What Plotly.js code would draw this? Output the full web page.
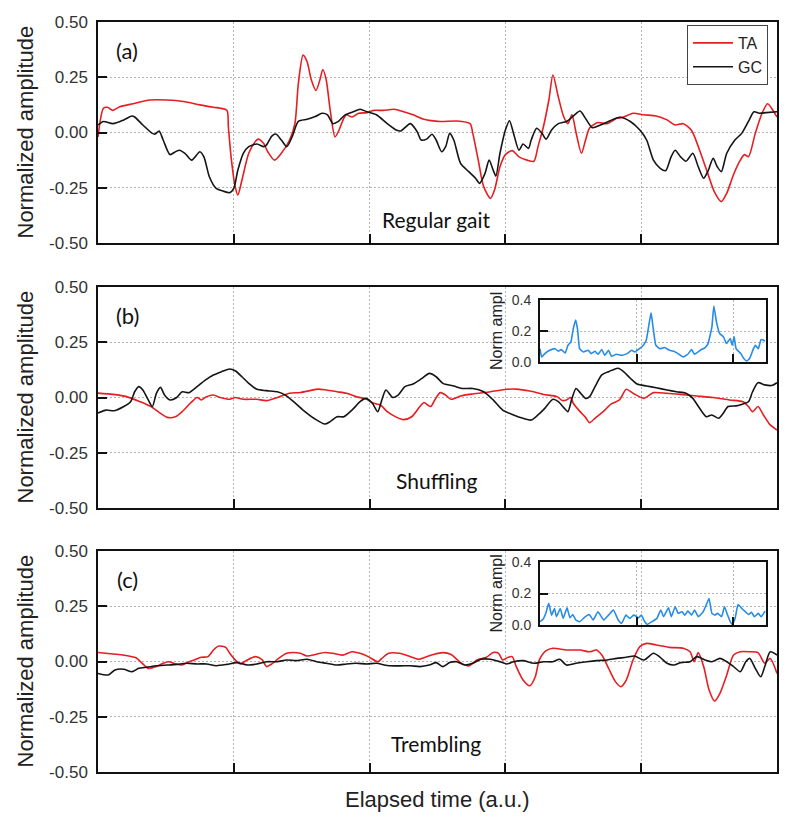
<!DOCTYPE html>
<html><head><meta charset="utf-8">
<script src="https://cdn.plot.ly/plotly-3.0.1.min.js"></script>
<style>html,body{margin:0;padding:0;background:#fff}#chart{width:788px;height:819px}</style>
</head><body><div id="chart"></div>
<script>
// ---------- DATA ----------
const yTickVals = [-0.5, -0.25, 0, 0.25, 0.5];
const yTickLabels = ['-0.50', '-0.25', '0.00', '0.25', '0.50'];
const xGridVals = [1, 2, 3, 4];
const insetYTickVals = [0, 0.2, 0.4];
const insetYTickLabels = ['0.0', '0.2', '0.4'];
const insetXGridVals = [1, 2];
const seriesNames = ['TA', 'GC'];
const panelLabels = ['(a)', '(b)', '(c)'];
const panelTitles = ['Regular gait', 'Shuffling', 'Trembling'];

// Panel (a) Regular gait
const aTA_t = [0,0.04,0.07,0.11,0.16,0.26,0.38,0.51,0.63,0.75,
  0.85,0.90,0.95,0.96,0.98,1.01,1.03,1.06,1.11,1.16,
  1.18,1.22,1.25,1.30,1.35,1.41,1.45,1.475,1.51,1.54,
  1.57,1.605,1.635,1.655,1.68,1.71,1.745,1.77,1.81,1.83,
  1.87,1.92,1.98,2.03,2.10,2.18,2.25,2.32,2.40,2.52,
  2.64,2.74,2.76,2.80,2.84,2.89,2.92,2.96,3.00,3.05,
  3.10,3.16,3.21,3.24,3.28,3.32,3.35,3.39,3.43,3.46,
  3.49,3.52,3.56,3.59,3.62,3.68,3.75,3.82,3.87,3.94,
  4.02,4.11,4.19,4.25,4.31,4.37,4.43,4.49,4.54,4.59,
  4.63,4.68,4.73,4.76,4.79,4.84,4.89,4.93,4.96,5.00];
const aTA_v = [-0.02,0.11,0.114,0.10,0.117,0.13,0.147,0.147,0.14,0.125,
  0.114,0.11,0.10,0.026,-0.11,-0.245,-0.283,-0.215,-0.094,-0.04,
  -0.03,-0.05,-0.087,-0.125,-0.094,-0.035,0.04,0.22,0.35,0.32,
  0.24,0.19,0.24,0.285,0.24,0.10,-0.02,0.004,0.064,0.08,
  0.07,0.087,0.09,0.10,0.10,0.105,0.094,0.08,0.06,0.05,
  0.052,0.04,-0.004,-0.125,-0.245,-0.298,-0.26,-0.155,-0.10,-0.082,
  -0.11,-0.125,-0.13,-0.064,0.026,0.147,0.26,0.16,0.07,0.04,
  0.08,0.0,-0.094,-0.035,0.02,0.045,0.04,0.064,0.07,0.087,
  0.08,0.075,0.057,0.034,0.04,0.01,-0.08,-0.185,-0.27,-0.313,
  -0.275,-0.19,-0.125,-0.10,-0.11,-0.004,0.087,0.13,0.11,0.07];
const aGC_t = [0,0.04,0.11,0.19,0.25,0.27,0.33,0.40,0.42,0.45,
  0.48,0.53,0.57,0.60,0.64,0.69,0.75,0.78,0.82,0.87,
  0.92,0.97,1.00,1.03,1.07,1.11,1.17,1.22,1.24,1.28,
  1.31,1.35,1.39,1.43,1.475,1.54,1.60,1.65,1.69,1.73,
  1.77,1.82,1.88,1.93,1.98,2.05,2.13,2.20,2.23,2.30,
  2.35,2.38,2.42,2.46,2.49,2.53,2.56,2.59,2.62,2.67,
  2.73,2.78,2.81,2.85,2.88,2.91,2.93,2.96,3.00,3.03,
  3.06,3.10,3.13,3.17,3.19,3.23,3.27,3.30,3.34,3.39,
  3.45,3.51,3.55,3.59,3.64,3.70,3.77,3.84,3.92,3.99,
  4.04,4.09,4.14,4.18,4.22,4.25,4.29,4.33,4.38,4.42,
  4.46,4.49,4.53,4.56,4.59,4.63,4.69,4.74,4.79,4.83,
  4.87,4.92,5.00];
const aGC_v = [0.034,0.05,0.04,0.057,0.075,0.07,0.034,-0.004,-0.007,0.007,
  -0.034,-0.10,-0.087,-0.08,-0.094,-0.125,-0.087,-0.11,-0.20,-0.253,
  -0.265,-0.272,-0.253,-0.17,-0.094,-0.064,-0.052,-0.064,-0.057,-0.016,
  -0.007,-0.034,-0.064,-0.019,0.05,0.06,0.072,0.087,0.08,0.04,
  0.05,0.08,0.094,0.105,0.094,0.08,0.04,0.01,0.007,0.04,
  0.004,-0.034,-0.03,-0.008,-0.034,-0.087,-0.064,-0.004,-0.034,-0.14,
  -0.177,-0.207,-0.23,-0.185,-0.125,-0.17,-0.197,-0.094,0.011,0.053,
  -0.004,-0.08,-0.052,-0.072,-0.034,0.019,-0.004,-0.03,0.011,0.04,
  0.05,0.08,0.097,0.064,0.022,0.034,0.053,0.069,0.05,0.011,
  -0.034,-0.125,-0.162,-0.173,-0.11,-0.08,-0.11,-0.13,-0.094,-0.155,
  -0.207,-0.177,-0.117,-0.155,-0.177,-0.094,-0.034,-0.004,0.05,0.094,
  0.087,0.09,0.094];

// Panel (b) Shuffling
const bTA_t = [0,0.11,0.21,0.31,0.39,0.46,0.51,0.57,0.62,0.68,
  0.73,0.76,0.80,0.85,0.90,0.97,1.01,1.07,1.17,1.24,
  1.34,1.41,1.49,1.56,1.62,1.68,1.76,1.83,1.90,1.98,
  2.03,2.08,2.13,2.20,2.25,2.31,2.37,2.40,2.45,2.48,
  2.52,2.56,2.60,2.67,2.76,2.89,3.01,3.08,3.18,3.28,
  3.38,3.42,3.45,3.48,3.50,3.55,3.59,3.62,3.66,3.72,
  3.78,3.84,3.89,3.94,4.02,4.09,4.19,4.29,4.41,4.53,
  4.65,4.75,4.79,4.82,4.86,4.90,4.95,5.00];
const bTA_v = [0.02,0.014,0.004,-0.019,-0.041,-0.072,-0.09,-0.087,-0.064,-0.026,
  0.0,-0.011,0.004,0.011,0.0,-0.008,0.0,-0.008,-0.008,-0.014,
  0.004,0.019,0.023,0.031,0.038,0.034,0.026,0.019,0.004,-0.008,
  -0.026,-0.034,-0.064,-0.09,-0.10,-0.087,-0.041,-0.023,-0.041,-0.011,
  0.022,0.011,-0.008,0.007,0.016,0.026,0.037,0.038,0.029,0.014,
  0.004,-0.014,-0.011,0.0,-0.026,-0.064,-0.09,-0.114,-0.094,-0.064,
  -0.029,-0.011,0.037,0.019,-0.004,0.022,0.019,0.014,0.007,0.0,
  -0.011,-0.019,-0.041,-0.064,-0.041,-0.079,-0.124,-0.147];
const bGC_t = [0,0.06,0.12,0.19,0.24,0.27,0.30,0.33,0.37,0.40,
  0.43,0.46,0.49,0.53,0.58,0.62,0.67,0.73,0.79,0.85,
  0.91,0.97,1.01,1.06,1.11,1.17,1.24,1.32,1.38,1.44,
  1.51,1.59,1.67,1.71,1.76,1.81,1.87,1.93,1.97,2.02,
  2.06,2.09,2.12,2.17,2.21,2.26,2.32,2.38,2.44,2.49,
  2.54,2.62,2.68,2.76,2.84,2.91,2.98,3.06,3.13,3.19,
  3.24,3.29,3.35,3.39,3.43,3.46,3.49,3.52,3.55,3.59,
  3.62,3.66,3.71,3.76,3.79,3.83,3.87,3.92,3.97,4.04,
  4.11,4.19,4.26,4.33,4.38,4.43,4.48,4.52,4.57,4.60,
  4.64,4.70,4.75,4.79,4.82,4.86,4.91,4.96,5.00];
const bGC_v = [-0.07,-0.057,-0.06,-0.041,-0.019,0.026,0.049,0.034,-0.011,-0.041,
  0.019,0.046,0.011,-0.011,0.0,0.026,0.022,0.049,0.079,0.102,
  0.117,0.129,0.121,0.094,0.064,0.037,0.031,0.026,0.011,-0.019,
  -0.057,-0.094,-0.12,-0.109,-0.087,-0.087,-0.057,-0.019,-0.004,-0.026,
  -0.064,-0.011,0.034,0.0,0.011,0.049,0.061,0.084,0.109,0.094,
  0.064,0.052,0.041,0.041,0.026,-0.011,-0.057,-0.079,-0.094,-0.102,
  -0.079,-0.049,-0.008,-0.019,-0.046,-0.064,-0.004,0.041,0.022,-0.004,
  0.004,0.049,0.102,0.117,0.124,0.132,0.117,0.087,0.061,0.052,
  0.044,0.034,0.026,0.019,-0.004,-0.049,-0.087,-0.079,-0.094,-0.075,
  -0.041,-0.038,-0.029,-0.019,0.026,0.067,0.057,0.054,0.067];

// Panel (c) Trembling
const cTA_t = [0,0.11,0.19,0.28,0.32,0.37,0.43,0.48,0.52,0.57,
  0.62,0.66,0.71,0.76,0.81,0.85,0.89,0.94,0.97,1.01,
  1.05,1.09,1.16,1.21,1.24,1.28,1.33,1.39,1.44,1.49,
  1.54,1.60,1.67,1.73,1.80,1.87,1.93,1.99,2.06,2.09,
  2.14,2.22,2.30,2.36,2.42,2.47,2.54,2.60,2.67,2.73,
  2.79,2.86,2.91,2.95,2.98,3.02,3.05,3.08,3.13,3.18,
  3.22,3.25,3.30,3.35,3.45,3.55,3.62,3.67,3.71,3.76,
  3.81,3.85,3.89,3.94,3.99,4.04,4.11,4.21,4.31,4.36,
  4.39,4.42,4.46,4.50,4.54,4.58,4.63,4.68,4.73,4.80,
  4.86,4.91,4.95,5.00];
const cTA_v = [0.041,0.034,0.029,0.017,-0.005,-0.031,-0.023,-0.008,-0.001,-0.011,
  -0.016,-0.004,0.007,0.019,0.022,0.052,0.07,0.064,0.037,0.007,
  -0.011,0.004,0.022,0.007,-0.023,-0.011,0.014,0.037,0.041,0.037,
  0.025,0.032,0.041,0.037,0.029,0.044,0.037,0.022,-0.001,0.014,
  0.037,0.037,0.022,0.01,0.022,0.032,0.04,0.032,-0.005,-0.02,
  0.007,0.019,0.041,0.037,0.007,0.019,0.022,-0.023,-0.084,-0.11,
  -0.069,0.007,0.049,0.06,0.052,0.052,0.044,0.052,0.029,-0.031,
  -0.091,-0.114,-0.084,0.007,0.067,0.082,0.075,0.064,0.06,0.044,
  -0.001,0.04,-0.023,-0.129,-0.179,-0.144,-0.061,0.029,0.044,0.044,
  0.04,-0.008,0.014,-0.054];
const cGC_t = [0,0.075,0.125,0.19,0.25,0.30,0.36,0.43,0.51,0.58,
  0.65,0.73,0.80,0.87,0.95,1.02,1.10,1.17,1.24,1.32,
  1.39,1.46,1.54,1.61,1.68,1.76,1.83,1.90,1.98,2.05,
  2.13,2.22,2.30,2.37,2.44,2.49,2.54,2.59,2.64,2.70,
  2.76,2.82,2.89,2.96,3.01,3.06,3.13,3.21,3.28,3.35,
  3.40,3.45,3.52,3.60,3.67,3.75,3.82,3.89,3.95,4.02,
  4.09,4.14,4.19,4.24,4.29,4.36,4.41,4.47,4.52,4.58,
  4.63,4.68,4.73,4.77,4.80,4.84,4.88,4.91,4.95,5.00];
const cGC_v = [-0.054,-0.061,-0.038,-0.035,-0.046,-0.031,-0.026,-0.019,-0.016,-0.013,
  -0.008,-0.011,-0.011,-0.019,-0.013,-0.005,-0.016,-0.011,-0.001,-0.001,
  0.007,0.004,0.01,-0.001,-0.008,-0.016,-0.011,-0.008,-0.011,-0.008,
  -0.018,-0.02,-0.019,-0.023,-0.016,-0.005,-0.023,-0.005,-0.001,-0.016,
  -0.008,0.01,0.01,-0.001,-0.011,-0.001,0.004,-0.008,-0.001,-0.001,
  0.01,-0.016,-0.008,-0.001,0.004,0.007,0.014,0.019,0.025,0.007,
  0.037,0.019,-0.008,-0.016,-0.005,-0.001,0.022,0.007,-0.001,0.014,
  -0.001,-0.023,-0.046,-0.001,0.014,-0.031,-0.069,-0.023,0.044,0.029];

// Inset (b)
const ib_t = [0,0.017,0.05,0.10,0.155,0.19,0.22,0.26,0.29,0.32,
  0.345,0.37,0.39,0.41,0.45,0.50,0.53,0.57,0.60,0.64,
  0.67,0.71,0.74,0.79,0.845,0.90,0.95,0.98,1.03,1.07,
  1.10,1.13,1.15,1.17,1.20,1.24,1.29,1.34,1.40,1.43,
  1.48,1.53,1.57,1.60,1.66,1.71,1.74,1.78,1.80,1.83,
  1.86,1.90,1.93,1.97,1.99,2.01,2.03,2.08,2.11,2.14,
  2.17,2.21,2.23,2.26,2.29,2.33];
const ib_v = [0.086,0.032,0.054,0.076,0.086,0.069,0.08,0.058,0.108,0.13,
  0.216,0.27,0.205,0.086,0.065,0.076,0.054,0.069,0.05,0.08,
  0.043,0.076,0.037,0.05,0.043,0.054,0.076,0.065,0.086,0.108,
  0.14,0.249,0.318,0.227,0.108,0.086,0.093,0.076,0.065,0.054,
  0.032,0.05,0.08,0.05,0.076,0.093,0.119,0.227,0.361,0.249,
  0.184,0.162,0.119,0.151,0.108,0.162,0.086,0.054,0.022,0.006,
  0.022,0.086,0.108,0.086,0.145,0.136];
// Inset (c)
const ic_t = [0,0.034,0.06,0.09,0.12,0.15,0.17,0.21,0.24,0.28,
  0.31,0.34,0.37,0.41,0.47,0.51,0.55,0.60,0.66,0.71,
  0.76,0.81,0.845,0.89,0.93,0.97,1.02,1.05,1.08,1.11,
  1.16,1.21,1.25,1.28,1.33,1.36,1.40,1.43,1.47,1.50,
  1.53,1.57,1.60,1.64,1.69,1.72,1.75,1.78,1.81,1.84,
  1.88,1.91,1.94,1.97,1.99,2.02,2.05,2.09,2.12,2.16,
  2.19,2.22,2.26,2.29,2.33];
const ic_v = [0.021,0.038,0.074,0.137,0.063,0.105,0.053,0.105,0.042,0.109,
  0.046,0.067,0.032,0.021,0.053,0.067,0.032,0.084,0.032,0.063,
  0.095,0.032,0.011,0.063,0.042,0.063,0.046,0.063,0.025,0.004,
  0.021,0.042,0.095,0.053,0.109,0.053,0.116,0.074,0.084,0.063,
  0.088,0.063,0.095,0.053,0.084,0.126,0.168,0.074,0.063,0.074,
  0.053,0.116,0.067,0.021,0.004,0.042,0.13,0.105,0.088,0.067,
  0.08,0.053,0.074,0.053,0.088];

// ---------- LAYOUT HELPERS ----------
const W = 788, H = 819;
const fx = p => p / W;
const fy = p => 1 - p / H;
const NBSP = '\u00a0';
const RED = 'rgb(230,30,34)', BLACK = '#151515', BLUE = 'rgb(38,140,232)';
const GRID = '#b4b4b4', GRIDDASH = '1.5px,2.5px';
const SANS = 'Liberation Sans, Arial, sans-serif';
const CAL = 'Lato, Open Sans, sans-serif';
const panelPx = [[22, 243], [287, 508], [551, 772]];
const panelTitleY = [220, 480, 743];
const insetPx = [[300, 362], [562, 625]];

function mainX(i) {
  return {
    domain: [fx(98), fx(777)], range: [0, 5], anchor: 'y' + (i === 0 ? '' : i + 1),
    tickvals: xGridVals, showticklabels: false, ticks: 'inside', ticklen: 9, tickwidth: 2, tickcolor: '#111',
    showline: true, linecolor: '#111', linewidth: 2, mirror: true,
    showgrid: true, gridcolor: GRID, griddash: GRIDDASH, gridwidth: 1, zeroline: false, fixedrange: true
  };
}
function mainY(i) {
  return {
    domain: [fy(panelPx[i][1]), fy(panelPx[i][0])], range: [-0.5, 0.5], anchor: 'x' + (i === 0 ? '' : i + 1),
    tickvals: yTickVals, ticktext: yTickLabels.map(s => s + NBSP), ticks: 'inside', ticklen: 9, tickwidth: 2, tickcolor: '#111',
    tickfont: { family: SANS, size: 17, color: '#333' },
    showline: true, linecolor: '#111', linewidth: 2, mirror: true,
    showgrid: true, gridcolor: GRID, griddash: GRIDDASH, gridwidth: 1, zeroline: false, fixedrange: true
  };
}
function insetX(k) {
  const n = 4 + k;
  return {
    domain: [fx(540), fx(766)], range: [0, 2.34], anchor: 'y' + n,
    tickvals: insetXGridVals, showticklabels: false, ticks: 'inside', ticklen: 8, tickwidth: 2, tickcolor: '#111',
    showline: true, linecolor: '#111', linewidth: 2, mirror: true,
    showgrid: true, gridcolor: GRID, griddash: GRIDDASH, gridwidth: 1, zeroline: false, fixedrange: true
  };
}
function insetY(k) {
  const n = 4 + k;
  return {
    domain: [fy(insetPx[k][1]), fy(insetPx[k][0])], range: [0, 0.4], anchor: 'x' + n,
    tickvals: insetYTickVals, ticktext: insetYTickLabels.map(s => s + NBSP), ticks: 'inside', ticklen: 8, tickwidth: 2, tickcolor: '#111',
    tickfont: { family: SANS, size: 14, color: '#333' },
    showline: true, linecolor: '#111', linewidth: 2, mirror: true,
    showgrid: true, gridcolor: GRID, griddash: GRIDDASH, gridwidth: 1, zeroline: false, fixedrange: true
  };
}

const mainSets = [
  [aTA_t, aTA_v, aGC_t, aGC_v],
  [bTA_t, bTA_v, bGC_t, bGC_v],
  [cTA_t, cTA_v, cGC_t, cGC_v]
];
const traces = [];
mainSets.forEach((s, i) => {
  const xa = 'x' + (i === 0 ? '' : i + 1), ya = 'y' + (i === 0 ? '' : i + 1);
  traces.push({ x: s[0], y: s[1], type: 'scatter', mode: 'lines', name: seriesNames[0], xaxis: xa, yaxis: ya,
    showlegend: i === 0, line: { color: RED, width: 1.6, shape: 'spline', smoothing: 0.7 }, hoverinfo: 'skip' });
  traces.push({ x: s[2], y: s[3], type: 'scatter', mode: 'lines', name: seriesNames[1], xaxis: xa, yaxis: ya,
    showlegend: i === 0, line: { color: BLACK, width: 1.6, shape: 'spline', smoothing: 0.7 }, hoverinfo: 'skip' });
});
[[ib_t, ib_v], [ic_t, ic_v]].forEach((s, k) => {
  traces.push({ x: s[0], y: s[1], type: 'scatter', mode: 'lines', xaxis: 'x' + (4 + k), yaxis: 'y' + (4 + k),
    showlegend: false, line: { color: BLUE, width: 1.6, shape: 'spline', smoothing: 0.4 }, hoverinfo: 'skip' });
});

const annotations = [];
panelPx.forEach((p, i) => {
  annotations.push({ text: panelLabels[i], xref: 'paper', yref: 'paper', x: fx(127), y: fy(p[0] + 28),
    xanchor: 'center', yanchor: 'middle', showarrow: false, font: { family: CAL, size: 22, color: '#111' } });
  annotations.push({ text: 'Normalized amplitude', xref: 'paper', yref: 'paper', x: fx(25), y: fy((p[0] + p[1]) / 2),
    xanchor: 'center', yanchor: 'middle', textangle: -90, showarrow: false, font: { family: SANS, size: 22, color: '#222' } });
  annotations.push({ text: panelTitles[i], xref: 'paper', yref: 'paper', x: fx(436), y: fy(panelTitleY[i]),
    xanchor: 'center', yanchor: 'middle', showarrow: false, font: { family: CAL, size: 21, color: '#111' } });
});
insetPx.forEach((p) => {
  annotations.push({ text: 'Norm ampl', xref: 'paper', yref: 'paper', x: fx(496), y: fy((p[0] + p[1]) / 2),
    xanchor: 'center', yanchor: 'middle', textangle: -90, showarrow: false, font: { family: SANS, size: 16, color: '#222' } });
});
annotations.push({ text: 'Elapsed time (a.u.)', xref: 'paper', yref: 'paper', x: fx(438), y: fy(799),
  xanchor: 'center', yanchor: 'middle', showarrow: false, font: { family: SANS, size: 22, color: '#222' } });

const layout = {
  width: W, height: H, margin: { l: 0, r: 0, t: 0, b: 0 },
  paper_bgcolor: '#fff', plot_bgcolor: 'rgba(0,0,0,0)',
  xaxis: mainX(0), yaxis: mainY(0), xaxis2: mainX(1), yaxis2: mainY(1), xaxis3: mainX(2), yaxis3: mainY(2),
  xaxis4: insetX(0), yaxis4: insetY(0), xaxis5: insetX(1), yaxis5: insetY(1),
  showlegend: true,
  legend: { x: fx(687), y: fy(25), xanchor: 'left', yanchor: 'top', bgcolor: '#fff', bordercolor: '#444', borderwidth: 1,
    font: { family: SANS, size: 16, color: '#222' }, tracegroupgap: 0, itemwidth: 40 },
  annotations: annotations
};
Plotly.newPlot('chart', traces, layout, { staticPlot: true, displayModeBar: false });
</script></body></html>
